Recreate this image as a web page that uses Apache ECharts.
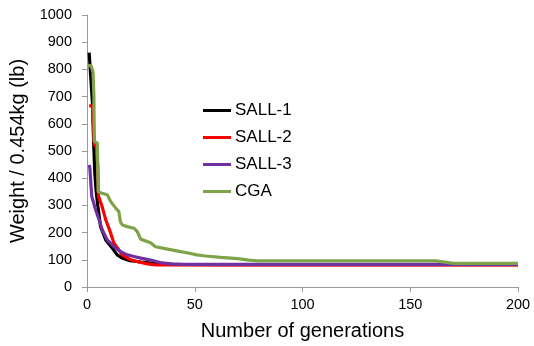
<!DOCTYPE html>
<html>
<head>
<meta charset="utf-8">
<script src="https://cdn.jsdelivr.net/npm/echarts@6/dist/echarts.min.js"></script>
<style>html,body{margin:0;padding:0;background:#fff;}#c{width:534px;height:346px;}</style>
</head>
<body>
<div id="c"></div>
<script>
var seriesNames = ['SALL-1', 'SALL-2', 'SALL-3', 'CGA'];
var xTicks = [0, 50, 100, 150, 200];
var yTicks = [0, 100, 200, 300, 400, 500, 600, 700, 800, 900, 1000];

var sall1Gen = [1, 1.5, 2.5, 3.2, 3.6, 4.3, 5, 6.3, 8.7, 11.8, 14, 16.4, 20, 25, 30, 35, 40, 60, 100, 150, 200];
var sall1Val = [862, 800, 680, 505, 420, 346, 300, 222, 173, 142, 118, 106, 97, 92, 88, 85, 83, 82, 82, 82, 82];

var sall2Gen = [1, 2.5, 3, 3.4, 4.5, 5, 5.3, 7, 8.7, 11, 12.5, 14.8, 16.4, 20, 23, 28, 32, 200];
var sall2Val = [667, 665, 600, 525, 510, 440, 335, 296, 247, 198, 161, 136, 118, 101, 94, 85, 81, 81];

var sall3Gen = [1, 1.3, 2.2, 4, 5.6, 7.1, 9.4, 12.5, 15.6, 18.7, 21.8, 25, 29.5, 34, 38.7, 45, 200];
var sall3Val = [449, 440, 333, 284, 247, 210, 173, 148, 130, 118, 112, 106, 99, 90, 85, 83, 83];

var cgaGen = [0.5, 2, 2.8, 3.2, 3.4, 4.8, 5.2, 7, 9.4, 11, 13.3, 14.8, 15.5, 16.4, 18.7, 21.8, 23.3, 24.9, 29.5, 31.8, 35.6, 43.4, 47, 51, 55, 62, 70, 75, 79, 162, 170, 200];
var cgaVal = [815, 812, 790, 700, 535, 530, 350, 345, 339, 314, 290, 277, 240, 228, 222, 216, 204, 176, 163, 148, 142, 130, 125, 118, 114, 109, 104, 99, 96, 96, 87, 87];

function pairs(g, v) { return g.map(function (x, i) { return [x, v[i]]; }); }

var colors = ['#000000', '#ff0000', '#7030a0', '#7ea34a'];
var dataSets = [pairs(sall1Gen, sall1Val), pairs(sall2Gen, sall2Val), pairs(sall3Gen, sall3Val), pairs(cgaGen, cgaVal)];

var chart = echarts.init(document.getElementById('c'), null, { renderer: 'canvas' });
var FONT = '"Liberation Sans", Arial, sans-serif';
chart.setOption({
  animation: false,
  backgroundColor: '#ffffff',
  textStyle: { fontFamily: FONT },
  grid: { left: 87, right: 16, top: 15, bottom: 59, containLabel: false },
  legend: {
    orient: 'vertical',
    left: 203,
    top: 102,
    padding: 0,
    itemWidth: 28,
    itemHeight: 3,
    itemGap: 10,
    icon: 'rect',
    textStyle: { fontSize: 17, color: '#000', fontFamily: FONT, padding: [0, 0, 0, -1] },
    data: seriesNames
  },
  xAxis: {
    type: 'value',
    min: xTicks[0], max: xTicks[xTicks.length - 1], interval: 50,
    name: 'Number of generations',
    nameLocation: 'middle',
    nameGap: 34,
    nameTextStyle: { fontSize: 20, color: '#000', fontFamily: FONT },
    axisLine: { show: true, lineStyle: { color: '#9a9a9a', width: 1 } },
    axisTick: { show: true, length: 5, lineStyle: { color: '#9a9a9a' } },
    axisLabel: { fontSize: 14.5, color: '#000', margin: 10, fontFamily: FONT, formatter: function (v) { return String(v); } },
    splitLine: { show: false }
  },
  yAxis: {
    type: 'value',
    min: yTicks[0], max: yTicks[yTicks.length - 1], interval: 100,
    name: 'Weight / 0.454kg (lb)',
    nameLocation: 'middle',
    nameGap: 51,
    nameTextStyle: { fontSize: 20, color: '#000', fontFamily: FONT },
    axisLine: { show: true, lineStyle: { color: '#9a9a9a', width: 1 } },
    axisTick: { show: true, length: 5, lineStyle: { color: '#9a9a9a' } },
    axisLabel: { fontSize: 14.5, color: '#000', margin: 15, fontFamily: FONT, formatter: function (v) { return String(v); } },
    splitLine: { show: false }
  },
  series: seriesNames.map(function (n, i) {
    return {
      name: n,
      type: 'line',
      data: dataSets[i],
      showSymbol: false,
      symbol: 'none',
      smooth: false,
      color: colors[i],
      lineStyle: { color: colors[i], width: 3.2 },
      z: 2 + i
    };
  })
});
</script>
</body>
</html>
